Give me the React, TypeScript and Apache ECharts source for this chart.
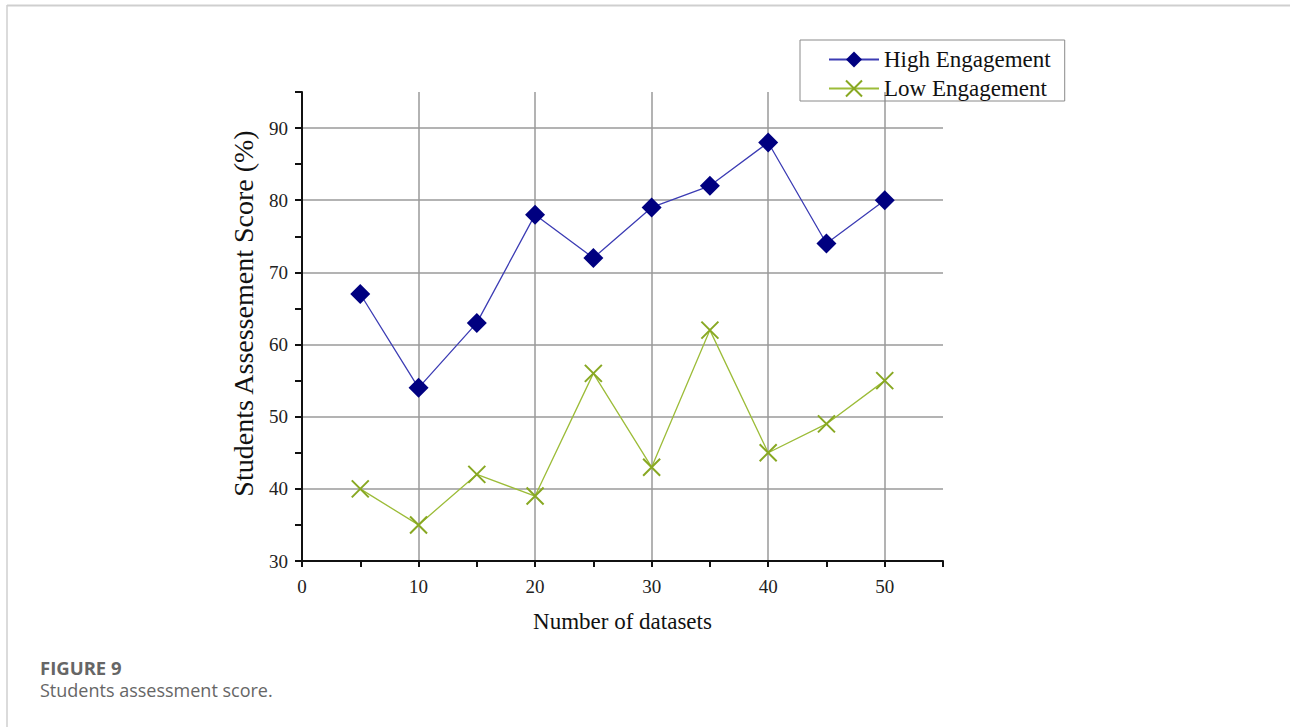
import React, { useEffect, useRef } from "react";
import * as echarts from "echarts";

const xValues = [5, 10, 15, 20, 25, 30, 35, 40, 45, 50];
const highEngagement = [67, 54, 63, 78, 72, 79, 82, 88, 74, 80];
const lowEngagement = [40, 35, 42, 39, 56, 43, 62, 45, 49, 55];
const seriesNames = ["High Engagement", "Low Engagement"];
const xTitle = "Number of datasets";
const yTitle = "Students Assessement Score (%)";
const captionTitle = "FIGURE 9";
const captionText = "Students assessment score.";

const SERIF = "'Liberation Serif', 'Times New Roman', serif";
const CROSS = "path://M0,0L10,10M10,0L0,10";

export default function App() {
  const ref = useRef<HTMLDivElement>(null);
  useEffect(() => {
    if (!ref.current) return;
    const chart = echarts.init(ref.current, undefined, { renderer: "svg" });
    const hi = xValues.map((x, i) => [x, highEngagement[i]]);
    const lo = xValues.map((x, i) => [x, lowEngagement[i]]);
    const axisCommon = {
      axisLine: { show: true, onZero: false, lineStyle: { color: "#111", width: 2 } },
      axisLabel: {
        fontFamily: SERIF,
        fontSize: 19,
        color: "#222",
        formatter: (v: number) => (v % 10 === 0 ? String(v) : ""),
      },
      nameTextStyle: { fontFamily: SERIF, fontSize: 23, color: "#111" },
      nameLocation: "middle" as const,
    };
    chart.setOption({
      animation: false,
      backgroundColor: "#fff",
      grid: { left: 302, top: 92, right: 347, bottom: 166, containLabel: false },
      xAxis: {
        type: "value",
        min: 0,
        max: 55,
        interval: 5,
        name: xTitle,
        nameGap: 49,
        ...axisCommon,
        axisLabel: { ...axisCommon.axisLabel, margin: 16 },
        axisTick: { show: true, inside: false, length: 6, lineStyle: { color: "#111", width: 2 } },
        splitLine: { show: true, lineStyle: { color: ["#9a9a9a", "rgba(0,0,0,0)"], width: 1.5 } },
      },
      yAxis: {
        type: "value",
        min: 30,
        max: 95,
        interval: 5,
        name: yTitle,
        nameGap: 45,
        ...axisCommon,
        nameTextStyle: { ...axisCommon.nameTextStyle, fontSize: 28, padding: [0, 0, 0, 26] },
        axisLabel: { ...axisCommon.axisLabel, margin: 14 },
        axisTick: { show: true, inside: false, length: 7, lineStyle: { color: "#111", width: 2 } },
        splitLine: { show: true, lineStyle: { color: ["#9a9a9a", "rgba(0,0,0,0)"], width: 1.5 } },
      },
      legend: {
        orient: "vertical",
        left: 800,
        top: 40,
        itemWidth: 50,
        itemHeight: 20,
        itemGap: 6,
        padding: [8, 14, 1, 28],
        borderColor: "#8a8a8a",
        borderWidth: 1,
        textStyle: { fontFamily: SERIF, fontSize: 23, color: "#111" },
        data: seriesNames,
      },
      series: [
        {
          name: seriesNames[0],
          type: "line",
          data: hi,
          symbol: "diamond",
          symbolSize: 20,
          lineStyle: { color: "#3c3cb4", width: 1.3 },
          itemStyle: { color: "#000080" },
          z: 3,
        },
        {
          name: seriesNames[1],
          type: "line",
          data: lo,
          symbol: CROSS,
          symbolSize: 17,
          lineStyle: { color: "#9cbc38", width: 1.3 },
          itemStyle: { color: "rgba(0,0,0,0)", borderColor: "#88a822", borderWidth: 2 },
          z: 2,
        },
      ],
      graphic: [
        { type: "line", shape: { x1: 7, y1: 5.5, x2: 1290, y2: 5.5 }, style: { stroke: "#cfcfcf", lineWidth: 2 } },
        { type: "line", shape: { x1: 7, y1: 5, x2: 7, y2: 727 }, style: { stroke: "#cfcfcf", lineWidth: 1.5 } },
        {
          type: "text",
          left: 40,
          top: 658,
          style: { text: captionTitle, fontFamily: "'Open Sans', sans-serif", fontWeight: "bold", fontSize: 18.5, fill: "#666" },
        },
        {
          type: "text",
          left: 40,
          top: 681,
          style: { text: captionText, fontFamily: "'Open Sans', sans-serif", fontSize: 18, fill: "#666" },
        },
      ],
    });
    return () => chart.dispose();
  }, []);
  return <div ref={ref} style={{ position: "fixed", left: 0, top: 0, width: 1290, height: 727 }} />;
}
